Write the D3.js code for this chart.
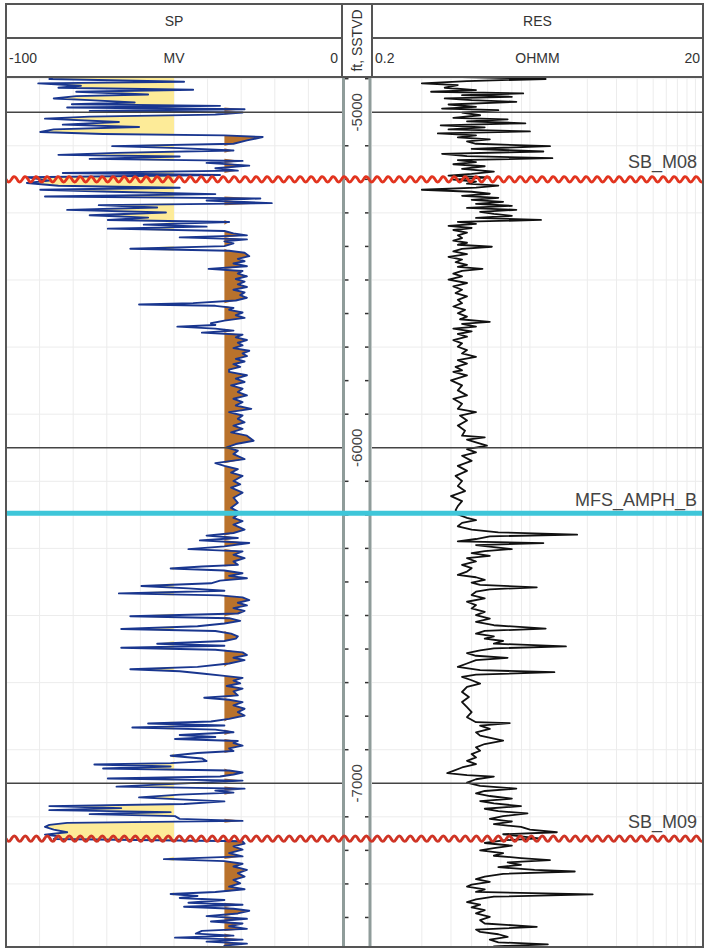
<!DOCTYPE html>
<html>
<head>
<meta charset="utf-8">
<title>SP / RES well log</title>
<script src="https://d3js.org/d3.v7.min.js"></script>
<style>
  body { margin: 0; background: #fff; }
  svg { display: block; font-family: "Liberation Sans", Arial, sans-serif; }
  .hdr { font-size: 14px; fill: #333; }
  .depth-label { font-size: 15px; fill: #444; }
  .top-label { font-size: 18px; fill: #444; }
  .grid { stroke: #ececec; stroke-width: 1; }
  .major { stroke: #444; stroke-width: 1.5; }
  .border { stroke: #555; stroke-width: 2; fill: none; }
</style>
</head>
<body>
<div id="chart"></div>
<script>
// SP log: [depth ft SSTVD, mV]
const spLog = [
  [-4895, -86.0], [-4901, -87.1], [-4909, -47.0], [-4914, -90.4], [-4921, -77.7], [-4927, -84.4],
  [-4933, -44.3], [-4939, -79.1], [-4947, -57.7], [-4952, -79.1], [-4959, -85.8], [-4964, -75.1],
  [-4971, -61.7], [-4976, -80.4], [-4981, -36.3], [-4986, -81.8], [-4991, -29.0], [-4996, -75.1],
  [-5001, -29.6], [-5007, -37.7], [-5013, -75.1], [-5019, -88.4], [-5029, -66.4], [-5037, -83.1],
  [-5044, -60.4], [-5051, -85.8], [-5059, -89.8], [-5065, -71.1], [-5069, -35.0], [-5074, -23.6],
  [-5084, -28.3], [-5094, -32.3], [-5101, -68.4], [-5107, -48.3], [-5114, -32.3], [-5121, -67.1],
  [-5127, -84.4], [-5132, -48.3], [-5139, -75.1], [-5145, -29.6], [-5151, -40.3], [-5159, -27.6],
  [-5167, -37.7], [-5174, -31.0], [-5181, -83.1], [-5187, -36.3], [-5194, -93.8], [-5204, -87.1],
  [-5211, -93.8], [-5219, -84.4], [-5225, -48.3], [-5231, -89.8], [-5237, -68.4], [-5244, -37.7],
  [-5251, -88.4], [-5257, -24.3], [-5263, -40.3], [-5271, -20.9], [-5277, -72.4], [-5284, -55.0],
  [-5291, -81.8], [-5299, -52.4], [-5307, -75.1], [-5314, -57.7], [-5321, -69.7], [-5327, -33.6],
  [-5335, -59.0], [-5341, -40.3], [-5347, -69.7], [-5354, -35.0], [-5361, -32.3], [-5367, -28.3],
  [-5373, -48.3], [-5379, -28.3], [-5385, -35.0], [-5391, -32.3], [-5399, -35.0], [-5407, -63.0],
  [-5413, -33.6], [-5419, -29.0], [-5429, -27.6], [-5437, -31.0], [-5444, -29.0], [-5451, -32.3],
  [-5459, -28.3], [-5467, -39.7], [-5473, -29.6], [-5481, -31.0], [-5489, -28.3], [-5497, -31.6],
  [-5505, -29.0], [-5513, -31.0], [-5521, -28.3], [-5529, -32.3], [-5537, -29.0], [-5545, -30.3],
  [-5553, -28.3], [-5561, -31.6], [-5569, -44.3], [-5573, -60.4], [-5577, -37.7], [-5583, -32.3],
  [-5589, -33.6], [-5597, -29.6], [-5605, -31.6], [-5613, -29.0], [-5621, -35.0], [-5629, -39.0],
  [-5634, -37.7], [-5639, -49.0], [-5645, -37.7], [-5651, -32.3], [-5657, -41.7], [-5663, -29.6],
  [-5671, -31.6], [-5679, -28.3], [-5687, -31.0], [-5695, -29.6], [-5703, -32.3], [-5711, -27.6],
  [-5719, -29.6], [-5727, -28.3], [-5735, -31.6], [-5743, -29.0], [-5751, -32.3], [-5759, -30.3],
  [-5767, -33.6], [-5774, -33.6], [-5784, -28.3], [-5794, -31.6], [-5804, -29.0], [-5814, -33.0],
  [-5824, -29.6], [-5834, -31.0], [-5844, -28.3], [-5854, -32.3], [-5864, -29.6], [-5874, -31.6],
  [-5884, -27.0], [-5894, -33.6], [-5904, -29.6], [-5914, -31.0], [-5924, -29.0], [-5934, -32.3],
  [-5944, -29.6], [-5954, -33.0], [-5964, -28.3], [-5979, -26.3], [-5989, -31.6], [-5999, -34.3],
  [-6009, -31.0], [-6019, -32.3], [-6034, -29.0], [-6046, -37.7], [-6054, -35.0], [-6064, -31.0],
  [-6074, -33.0], [-6084, -29.6], [-6099, -32.3], [-6109, -30.3], [-6119, -33.0], [-6134, -29.6],
  [-6149, -32.3], [-6164, -31.0], [-6179, -33.0], [-6194, -30.3], [-6209, -32.3], [-6219, -29.6],
  [-6229, -32.3], [-6244, -29.0], [-6254, -32.3], [-6262, -40.3], [-6269, -31.0], [-6276, -42.3],
  [-6284, -27.6], [-6294, -35.0], [-6302, -45.7], [-6309, -29.6], [-6319, -32.3], [-6329, -29.0],
  [-6339, -32.3], [-6349, -31.0], [-6354, -41.7], [-6360, -51.0], [-6366, -35.0], [-6374, -29.6],
  [-6382, -33.6], [-6389, -28.3], [-6396, -36.3], [-6404, -39.0], [-6412, -59.7], [-6419, -45.7],
  [-6426, -35.0], [-6434, -66.4], [-6440, -36.3], [-6446, -29.6], [-6454, -27.6], [-6462, -31.0],
  [-6470, -28.3], [-6478, -32.3], [-6486, -29.0], [-6494, -31.0], [-6502, -63.0], [-6508, -33.6],
  [-6516, -30.3], [-6524, -35.0], [-6532, -43.0], [-6540, -65.7], [-6546, -37.7], [-6554, -33.0],
  [-6562, -31.0], [-6569, -31.6], [-6576, -35.0], [-6584, -55.0], [-6590, -35.0], [-6596, -65.7],
  [-6602, -37.7], [-6610, -29.6], [-6618, -28.3], [-6626, -32.3], [-6633, -29.0], [-6643, -33.6],
  [-6653, -43.0], [-6660, -63.0], [-6666, -48.3], [-6673, -41.7], [-6680, -35.0], [-6686, -29.6],
  [-6694, -32.3], [-6702, -30.3], [-6710, -34.3], [-6718, -29.6], [-6726, -32.3], [-6738, -31.0],
  [-6745, -41.0], [-6751, -33.6], [-6758, -29.6], [-6768, -32.3], [-6778, -29.0], [-6788, -31.0],
  [-6798, -29.0], [-6808, -33.6], [-6816, -39.0], [-6822, -57.7], [-6828, -35.0], [-6834, -62.4],
  [-6840, -37.7], [-6848, -32.3], [-6856, -48.3], [-6862, -37.7], [-6868, -49.7], [-6874, -31.0],
  [-6880, -32.3], [-6888, -29.6], [-6896, -33.6], [-6904, -32.3], [-6910, -43.0], [-6918, -51.0],
  [-6926, -41.7], [-6934, -40.3], [-6940, -51.0], [-6944, -73.7], [-6950, -51.0], [-6956, -71.1],
  [-6962, -33.6], [-6968, -29.6], [-6974, -32.3], [-6980, -36.3], [-6986, -69.7], [-6992, -29.6],
  [-6998, -41.7], [-7004, -55.0], [-7010, -67.1], [-7016, -29.0], [-7022, -37.7], [-7028, -32.3],
  [-7034, -48.3], [-7042, -60.4], [-7048, -48.3], [-7054, -35.0], [-7062, -47.0], [-7068, -87.1],
  [-7074, -65.7], [-7080, -87.1], [-7086, -51.0], [-7092, -75.1], [-7098, -49.7], [-7106, -48.3],
  [-7112, -29.6], [-7118, -81.8], [-7124, -87.1], [-7130, -88.4], [-7138, -85.8], [-7146, -81.8],
  [-7153, -88.4], [-7158, -84.4], [-7166, -85.8], [-7173, -29.6], [-7180, -29.0], [-7188, -32.3],
  [-7198, -29.6], [-7208, -33.6], [-7218, -29.6], [-7226, -53.0], [-7232, -35.0], [-7240, -29.6],
  [-7248, -32.3], [-7258, -28.3], [-7268, -31.0], [-7278, -29.0], [-7288, -32.3], [-7298, -30.3],
  [-7308, -33.6], [-7316, -29.0], [-7324, -37.7], [-7330, -51.0], [-7336, -43.0], [-7342, -48.3],
  [-7348, -35.0], [-7356, -45.7], [-7362, -29.6], [-7368, -47.0], [-7374, -32.3], [-7380, -27.6],
  [-7388, -31.0], [-7396, -40.3], [-7404, -28.3], [-7412, -39.0], [-7418, -29.6], [-7426, -33.6],
  [-7434, -28.3], [-7440, -41.7], [-7448, -43.5], [-7454, -32.3], [-7460, -49.7], [-7466, -29.6],
  [-7472, -40.3], [-7478, -28.3], [-7484, -35.0], [-7490, -31.0]
];

// RES log: [depth ft SSTVD, ohm.m]
const resLog = [
  [-4895, 0.70], [-4901, 2.24], [-4907, 0.75], [-4914, 0.40], [-4919, 0.66], [-4927, 0.55],
  [-4934, 0.85], [-4939, 0.455], [-4944, 1.64], [-4949, 0.70], [-4954, 1.40], [-4959, 0.55],
  [-4964, 0.80], [-4969, 1.49], [-4977, 0.58], [-4984, 0.85], [-4989, 0.53], [-4994, 1.16],
  [-5001, 0.70], [-5009, 0.90], [-5017, 0.62], [-5021, 1.32], [-5027, 0.75], [-5033, 1.69],
  [-5039, 0.52], [-5045, 0.96], [-5051, 0.58], [-5057, 1.80], [-5063, 0.50], [-5069, 0.85],
  [-5075, 0.66], [-5081, 1.03], [-5087, 0.75], [-5094, 0.85], [-5101, 2.38], [-5109, 0.80],
  [-5117, 2.17], [-5124, 0.53], [-5131, 0.75], [-5137, 2.46], [-5143, 0.66], [-5149, 0.85],
  [-5155, 0.62], [-5161, 0.96], [-5169, 0.70], [-5177, 1.09], [-5184, 0.80], [-5189, 0.58],
  [-5194, 1.03], [-5201, 0.62], [-5207, 0.85], [-5213, 0.75], [-5219, 1.16], [-5225, 0.85],
  [-5231, 0.40], [-5237, 0.80], [-5243, 1.03], [-5249, 0.70], [-5255, 1.16], [-5261, 0.80],
  [-5267, 1.24], [-5273, 0.85], [-5279, 1.40], [-5285, 0.75], [-5291, 1.49], [-5297, 0.90],
  [-5303, 1.09], [-5309, 1.40], [-5315, 0.85], [-5321, 2.10], [-5327, 0.66], [-5333, 0.85],
  [-5339, 0.58], [-5345, 0.80], [-5351, 0.62], [-5359, 0.75], [-5367, 0.66], [-5375, 0.70],
  [-5383, 0.62], [-5389, 0.75], [-5395, 0.66], [-5401, 1.06], [-5407, 0.70], [-5415, 0.62],
  [-5423, 0.75], [-5431, 0.58], [-5439, 0.70], [-5447, 0.64], [-5455, 0.75], [-5461, 0.66],
  [-5467, 0.93], [-5473, 0.70], [-5481, 0.62], [-5489, 0.70], [-5499, 0.58], [-5509, 0.75],
  [-5519, 0.62], [-5529, 0.70], [-5539, 0.64], [-5549, 0.75], [-5559, 0.66], [-5569, 0.70],
  [-5579, 0.62], [-5589, 0.73], [-5599, 0.66], [-5609, 0.75], [-5617, 0.68], [-5625, 1.03],
  [-5631, 0.70], [-5639, 0.85], [-5645, 0.62], [-5653, 0.80], [-5661, 0.66], [-5669, 0.75],
  [-5679, 0.62], [-5689, 0.70], [-5699, 0.66], [-5709, 0.75], [-5719, 0.70], [-5729, 0.85],
  [-5739, 0.66], [-5749, 0.75], [-5759, 0.64], [-5769, 0.70], [-5774, 0.62], [-5784, 0.75],
  [-5799, 0.60], [-5814, 0.70], [-5829, 0.66], [-5844, 0.75], [-5854, 0.62], [-5869, 0.70],
  [-5884, 0.66], [-5894, 0.85], [-5904, 0.68], [-5919, 0.75], [-5934, 0.66], [-5949, 0.73],
  [-5964, 0.70], [-5969, 0.96], [-5976, 0.75], [-5984, 0.85], [-5994, 0.99], [-6004, 0.75],
  [-6014, 0.85], [-6024, 0.70], [-6039, 0.80], [-6054, 0.66], [-6069, 0.75], [-6084, 0.64],
  [-6099, 0.70], [-6114, 0.66], [-6129, 0.73], [-6144, 0.60], [-6159, 0.70], [-6174, 0.66],
  [-6186, 0.64], [-6199, 0.66], [-6209, 0.75], [-6216, 0.85], [-6224, 0.70], [-6234, 0.66],
  [-6244, 0.80], [-6252, 1.16], [-6259, 3.47], [-6264, 1.03], [-6272, 0.85], [-6279, 0.66],
  [-6284, 2.17], [-6290, 0.85], [-6296, 1.09], [-6302, 1.40], [-6308, 0.96], [-6314, 0.80],
  [-6322, 1.03], [-6329, 0.75], [-6339, 0.85], [-6349, 0.70], [-6359, 0.80], [-6369, 0.75],
  [-6379, 0.66], [-6386, 0.85], [-6394, 0.96], [-6402, 0.80], [-6409, 0.90], [-6416, 1.98],
  [-6422, 1.03], [-6429, 0.85], [-6439, 0.80], [-6449, 0.96], [-6459, 0.75], [-6469, 0.85],
  [-6479, 0.80], [-6489, 0.96], [-6499, 0.85], [-6509, 1.03], [-6519, 0.85], [-6529, 1.09],
  [-6539, 2.24], [-6546, 0.96], [-6554, 0.85], [-6562, 1.09], [-6569, 0.96], [-6576, 1.24],
  [-6584, 1.09], [-6592, 2.97], [-6598, 1.09], [-6604, 0.90], [-6612, 0.75], [-6620, 0.85],
  [-6626, 1.32], [-6633, 0.85], [-6643, 0.75], [-6653, 0.66], [-6663, 0.90], [-6669, 2.53],
  [-6676, 0.85], [-6683, 0.70], [-6693, 0.80], [-6703, 0.90], [-6713, 0.75], [-6728, 0.70],
  [-6743, 0.77], [-6758, 0.70], [-6773, 0.75], [-6788, 0.80], [-6803, 0.75], [-6818, 0.85],
  [-6821, 1.36], [-6828, 0.90], [-6838, 1.03], [-6848, 0.85], [-6858, 0.90], [-6873, 1.24],
  [-6883, 0.96], [-6893, 0.85], [-6903, 0.90], [-6913, 0.80], [-6923, 0.85], [-6933, 0.75],
  [-6943, 0.85], [-6953, 0.70], [-6963, 0.62], [-6970, 0.57], [-6976, 0.75], [-6980, 1.09],
  [-6988, 0.85], [-6998, 0.75], [-7008, 0.90], [-7016, 1.49], [-7023, 0.96], [-7030, 0.85],
  [-7038, 1.03], [-7046, 1.40], [-7053, 0.90], [-7060, 1.09], [-7068, 1.59], [-7076, 0.96],
  [-7083, 1.16], [-7090, 1.74], [-7098, 1.24], [-7106, 1.03], [-7114, 1.40], [-7122, 1.09],
  [-7130, 1.59], [-7138, 1.80], [-7146, 2.62], [-7152, 1.24], [-7158, 1.59], [-7164, 2.04],
  [-7170, 1.24], [-7178, 0.96], [-7186, 1.40], [-7193, 1.09], [-7200, 0.90], [-7208, 1.24],
  [-7216, 1.09], [-7223, 1.59], [-7229, 2.38], [-7236, 1.32], [-7243, 1.59], [-7250, 1.16],
  [-7258, 1.92], [-7263, 3.36], [-7270, 1.24], [-7278, 0.96], [-7286, 0.85], [-7294, 1.03],
  [-7302, 0.80], [-7308, 0.75], [-7316, 0.96], [-7324, 0.85], [-7331, 4.31], [-7338, 1.09],
  [-7346, 0.85], [-7354, 0.75], [-7362, 0.90], [-7370, 0.80], [-7378, 0.96], [-7388, 0.85],
  [-7398, 1.03], [-7408, 0.90], [-7418, 0.96], [-7428, 1.98], [-7436, 0.85], [-7443, 0.90],
  [-7450, 1.16], [-7458, 1.32], [-7466, 1.03], [-7474, 1.16], [-7480, 2.31], [-7486, 1.09],
  [-7494, 1.24]
];

// formation tops
const topNames = ["SB_M08", "MFS_AMPH_B", "SB_M09"];
const topDepths = [-5200, -6195, -7165];

// track scales / cutoffs
const spRange = [-100, 0];
const resRange = [0.2, 20];
const depthRange = [-4895, -7488];
const sandCutoff = -50;   // yellow fill left of this
const shaleCutoff = -35;  // brown fill right of this

const width = 704, height = 949;
const L = 6, T = 4, R = 703, B = 947;
const H1 = 38, H2 = 77;
const spR = 342, resL = 372;

const svg = d3.select("#chart").append("svg")
  .attr("width", width).attr("height", height);
svg.append("rect").attr("width", width).attr("height", height).attr("fill", "#fff");

const y = d3.scaleLinear().domain(depthRange).range([H2, B]);
const xSP = d3.scaleLinear().domain(spRange).range([L, spR]);
const xRES = d3.scaleLog().domain(resRange).range([resL, R]);

const defs = svg.append("defs");
defs.append("clipPath").attr("id", "clipSP").append("rect")
  .attr("x", L).attr("y", H2).attr("width", spR - L).attr("height", B - H2);
defs.append("clipPath").attr("id", "clipRES").append("rect")
  .attr("x", resL).attr("y", H2).attr("width", R - resL).attr("height", B - H2);

// grid
const gridDepths = d3.range(-4900, -7500, -200);
const g = svg.append("g");
g.selectAll(".hgrid-sp").data(gridDepths).join("line").attr("class", "grid")
  .attr("x1", L).attr("x2", spR).attr("y1", d => y(d)).attr("y2", d => y(d));
g.selectAll(".hgrid-res").data(gridDepths).join("line").attr("class", "grid")
  .attr("x1", resL).attr("x2", R).attr("y1", d => y(d)).attr("y2", d => y(d));
g.selectAll(".vgrid-sp").data(d3.range(-90, 0, 10)).join("line").attr("class", "grid")
  .attr("x1", d => xSP(d)).attr("x2", d => xSP(d)).attr("y1", H2).attr("y2", B);
const resGrid = [0.2, 2].flatMap(b => d3.range(2, 10).map(k => b * k));
g.selectAll(".vgrid-res").data(resGrid).join("line").attr("class", "grid")
  .attr("x1", d => xRES(d)).attr("x2", d => xRES(d)).attr("y1", H2).attr("y2", B);

// SP fills + curve
const spG = svg.append("g").attr("clip-path", "url(#clipSP)");
spG.append("path").datum(spLog)
  .attr("fill", "#fdeb98")
  .attr("d", d3.area()
    .y(d => y(d[0]))
    .x0(xSP(sandCutoff))
    .x1(d => xSP(Math.min(d[1], sandCutoff))));
spG.append("path").datum(spLog)
  .attr("fill", "#b9722c")
  .attr("d", d3.area()
    .y(d => y(d[0]))
    .x0(xSP(shaleCutoff))
    .x1(d => xSP(Math.max(d[1], shaleCutoff))));
spG.append("path").datum(spLog)
  .attr("fill", "none").attr("stroke", "#19368f").attr("stroke-width", 1.9)
  .attr("stroke-linejoin", "round")
  .attr("d", d3.line().x(d => xSP(d[1])).y(d => y(d[0])));

// RES curve
svg.append("g").attr("clip-path", "url(#clipRES)")
  .append("path").datum(resLog)
  .attr("fill", "none").attr("stroke", "#111").attr("stroke-width", 1.8)
  .attr("stroke-linejoin", "round")
  .attr("d", d3.line().x(d => xRES(d[1])).y(d => y(d[0])));

// major depth lines
const majors = [-5000, -6000, -7000];
svg.selectAll(".maj-sp").data(majors).join("line").attr("class", "major")
  .attr("x1", L).attr("x2", spR).attr("y1", d => y(d)).attr("y2", d => y(d));
svg.selectAll(".maj-res").data(majors).join("line").attr("class", "major")
  .attr("x1", resL).attr("x2", R).attr("y1", d => y(d)).attr("y2", d => y(d));

// depth track
const dG = svg.append("g");
[343.5, 370].forEach(x => dG.append("line")
  .attr("x1", x).attr("x2", x).attr("y1", H2).attr("y2", B)
  .attr("stroke", "#8f9c9a").attr("stroke-width", 3));
const minor = d3.range(-4900, -7500, -100).filter(d => d % 1000 !== 0);
dG.selectAll(".tl").data(minor).join("line")
  .attr("x1", 345).attr("x2", 348.5).attr("y1", d => y(d)).attr("y2", d => y(d))
  .attr("stroke", "#333").attr("stroke-width", 1.5);
dG.selectAll(".tr").data(minor).join("line")
  .attr("x1", 365).attr("x2", 368.5).attr("y1", d => y(d)).attr("y2", d => y(d))
  .attr("stroke", "#333").attr("stroke-width", 1.5);
dG.selectAll(".dl").data(majors).join("text").attr("class", "depth-label")
  .attr("transform", d => `translate(357,${y(d)}) rotate(-90)`)
  .attr("text-anchor", "middle").attr("dy", "0.36em")
  .text(d => d);

// tops
const wave = d3.line().curve(d3.curveBasis);
topNames.forEach((name, i) => {
  const yy = y(topDepths[i]);
  if (name.startsWith("MFS")) {
    svg.append("line").attr("x1", L).attr("x2", R).attr("y1", yy).attr("y2", yy)
      .attr("stroke", "#3ec6d9").attr("stroke-width", 5);
    svg.append("text").attr("class", "top-label").attr("x", 697).attr("y", yy - 7)
      .attr("text-anchor", "end").text(name);
  } else {
    const pts = d3.range(L, R + 1, 1).map(x => [x, yy + 2.8 * Math.sin((x - L) / 11 * 2 * Math.PI)]);
    svg.append("path").attr("d", wave(pts)).attr("fill", "none")
      .attr("stroke", i === 0 ? "#e2341f" : "#cf3425").attr("stroke-width", 2.8);
    svg.append("text").attr("class", "top-label").attr("x", 697).attr("y", yy - 11)
      .attr("text-anchor", "end").text(name);
  }
});

// header
const hd = svg.append("g");
hd.append("line").attr("class", "border").attr("x1", L).attr("x2", spR).attr("y1", H1).attr("y2", H1);
hd.append("line").attr("class", "border").attr("x1", resL).attr("x2", R).attr("y1", H1).attr("y2", H1);
hd.append("line").attr("class", "border").attr("x1", L).attr("x2", R).attr("y1", H2).attr("y2", H2);
hd.append("line").attr("class", "border").attr("x1", spR).attr("x2", spR).attr("y1", T).attr("y2", H2);
hd.append("line").attr("class", "border").attr("x1", resL).attr("x2", resL).attr("y1", T).attr("y2", H2);
hd.append("rect").attr("class", "border").attr("x", L).attr("y", T).attr("width", R - L).attr("height", B - T);

const spMid = (L + spR) / 2, resMid = (resL + R) / 2;
const r1 = (T + H1) / 2, r2 = (H1 + H2) / 2;
hd.append("text").attr("class", "hdr").attr("x", spMid).attr("y", r1).attr("dy", "0.36em").attr("text-anchor", "middle").text("SP");
hd.append("text").attr("class", "hdr").attr("x", L + 3).attr("y", r2).attr("dy", "0.36em").text(spRange[0]);
hd.append("text").attr("class", "hdr").attr("x", spMid).attr("y", r2).attr("dy", "0.36em").attr("text-anchor", "middle").text("MV");
hd.append("text").attr("class", "hdr").attr("x", spR - 4).attr("y", r2).attr("dy", "0.36em").attr("text-anchor", "end").text(spRange[1]);
hd.append("text").attr("class", "hdr").attr("x", resMid).attr("y", r1).attr("dy", "0.36em").attr("text-anchor", "middle").text("RES");
hd.append("text").attr("class", "hdr").attr("x", resL + 3).attr("y", r2).attr("dy", "0.36em").text(resRange[0]);
hd.append("text").attr("class", "hdr").attr("x", resMid).attr("y", r2).attr("dy", "0.36em").attr("text-anchor", "middle").text("OHMM");
hd.append("text").attr("class", "hdr").attr("x", R - 3).attr("y", r2).attr("dy", "0.36em").attr("text-anchor", "end").text(resRange[1]);
hd.append("text").attr("class", "hdr")
  .attr("transform", `translate(357,${(T + H2) / 2}) rotate(-90)`)
  .attr("text-anchor", "middle").attr("dy", "0.36em").text("ft, SSTVD");
</script>
</body>
</html>
